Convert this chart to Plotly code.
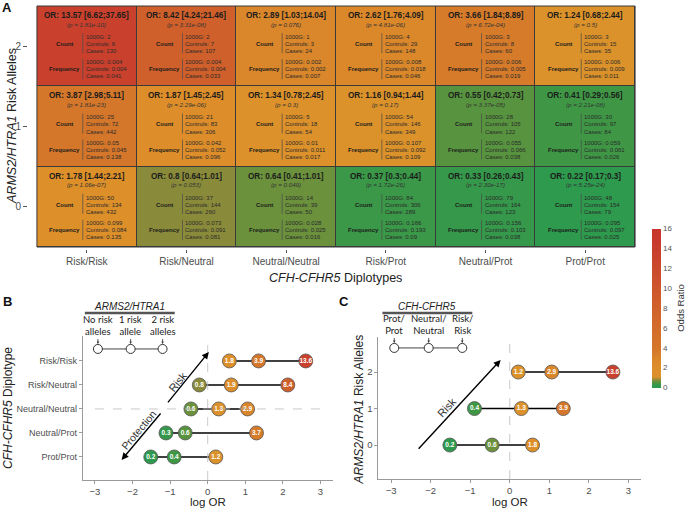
import numpy as np
import plotly.graph_objects as go

W, H = 685, 508
FONT = "Liberation Sans, Arial, sans-serif"

# ---------------- data ----------------
diplotypes = ["Risk/Risk", "Risk/Neutral", "Neutral/Neutral", "Risk/Prot", "Neutral/Prot", "Prot/Prot"]
risk_alleles = [0, 1, 2]

# odds ratios by ARMS2/HTRA1 risk allele count (columns follow diplotypes)
or_0 = [1.78, 0.8, 0.64, 0.37, 0.33, 0.22]
or_1 = [3.87, 1.87, 1.34, 1.16, 0.55, 0.41]
or_2 = [13.57, 8.42, 2.89, 2.62, 3.66, 1.24]

ci_lo_0 = [1.44, 0.64, 0.41, 0.3, 0.26, 0.17]
ci_hi_0 = [2.21, 1.01, 1.01, 0.44, 0.43, 0.3]
ci_lo_1 = [2.98, 1.45, 0.78, 0.94, 0.42, 0.29]
ci_hi_1 = [5.11, 2.45, 2.45, 1.44, 0.73, 0.56]
ci_lo_2 = [6.62, 4.24, 1.03, 1.76, 1.84, 0.68]
ci_hi_2 = [37.65, 21.46, 14.04, 4.09, 8.89, 2.44]

p_0 = ["1.06e-07", "0.053", "0.049", "1.72e-26", "2.30e-17", "5.25e-24"]
p_1 = ["1.81e-23", "2.29e-06", "0.3", "0.17", "3.37e-05", "2.21e-08"]
p_2 = ["1.81e-10", "3.31e-08", "0.076", "4.81e-06", "6.72e-04", "0.5"]

n1000g_0 = [50, 37, 14, 84, 79, 48]
n1000g_1 = [25, 21, 5, 54, 28, 30]
n1000g_2 = [2, 2, 1, 4, 3, 3]
nctrl_0 = [134, 144, 39, 306, 164, 154]
nctrl_1 = [72, 83, 18, 146, 105, 97]
nctrl_2 = [6, 7, 3, 29, 8, 15]
ncase_0 = [432, 260, 50, 289, 123, 79]
ncase_1 = [442, 306, 54, 349, 122, 84]
ncase_2 = [130, 107, 24, 148, 60, 35]

f1000g_0 = [0.099, 0.073, 0.028, 0.166, 0.156, 0.095]
f1000g_1 = [0.05, 0.042, 0.01, 0.107, 0.055, 0.059]
f1000g_2 = [0.004, 0.004, 0.002, 0.008, 0.006, 0.006]
fctrl_0 = [0.084, 0.091, 0.025, 0.193, 0.103, 0.097]
fctrl_1 = [0.045, 0.052, 0.011, 0.092, 0.066, 0.061]
fctrl_2 = [0.004, 0.004, 0.002, 0.018, 0.005, 0.009]
fcase_0 = [0.135, 0.081, 0.016, 0.09, 0.038, 0.025]
fcase_1 = [0.138, 0.096, 0.017, 0.109, 0.038, 0.026]
fcase_2 = [0.041, 0.033, 0.007, 0.046, 0.019, 0.011]

b_rows = ["Risk/Risk", "Risk/Neutral", "Neutral/Neutral", "Neutral/Prot", "Prot/Prot"]
c_cols = ["Prot/Prot", "Neutral/Neutral", "Risk/Risk"]
colorbar_ticks = [0, 2, 4, 6, 8, 10, 12, 14, 16]
logor_ticks = [-3, -2, -1, 0, 1, 2, 3]

# ---------------- colours ----------------
cs_vals = [0, 0.25, 0.4, 0.55, 0.65, 0.8, 1.0, 1.15, 1.9, 2.9, 3.9, 8.4, 13.6, 16]
cs_cols = ["#2a9a50", "#2f9a4d", "#3d9747", "#58943f", "#6d913d", "#8a8b3a", "#c08f30",
           "#db922b", "#dd8e2a", "#da862a", "#d5772a", "#d0602b", "#c9412d", "#c8352d"]
colorscale = [[v / 16, c] for v, c in zip(cs_vals, cs_cols)]

rows = [
    (or_0, ci_lo_0, ci_hi_0, p_0, n1000g_0, nctrl_0, ncase_0, f1000g_0, fctrl_0, fcase_0),
    (or_1, ci_lo_1, ci_hi_1, p_1, n1000g_1, nctrl_1, ncase_1, f1000g_1, fctrl_1, fcase_1),
    (or_2, ci_lo_2, ci_hi_2, p_2, n1000g_2, nctrl_2, ncase_2, f1000g_2, fctrl_2, fcase_2),
]
or_by_allele = [or_0, or_1, or_2]


def py(p):
    return 1 - p / H


fig = go.Figure()

# ---------------- Panel A heatmap ----------------
fig.add_trace(go.Heatmap(
    x=list(range(len(diplotypes))), y=risk_alleles, z=or_by_allele,
    colorscale=colorscale, zmin=0, zmax=16, xgap=1, ygap=1, hoverinfo="skip",
    colorbar=dict(thickness=9, thicknessmode="pixels", len=159, lenmode="pixels",
                  x=652 / W, xanchor="left", y=py(308), yanchor="middle",
                  outlinewidth=0, tickvals=colorbar_ticks, ticks="", xpad=0, ypad=0,
                  tickfont=dict(size=8, color="#555", family=FONT),
                  title=dict(text="Odds Ratio", side="right", font=dict(size=9.5, color="#333", family=FONT))),
    xaxis="x", yaxis="y"))

annotations = []
shapes = []
CW, CH = 99.8, 80.3
txt = "#1c1c1c"
for r, (orv, lo, hi, pv, n1, n2, n3, f1, f2, f3) in enumerate(rows):
    for c in range(len(diplotypes)):
        base = dict(x=c, y=r, xref="x", yref="y", showarrow=False, yanchor="middle")
        annotations.append(dict(base, text=f"<b>OR: {orv[c]} [{lo[c]};{hi[c]}]</b>", yshift=30.5, xanchor="center",
                                font=dict(size=8.2, color=txt, family=FONT)))
        annotations.append(dict(base, text=f"<i>(p = {pv[c]})</i>", yshift=22, xanchor="center",
                                font=dict(size=6.2, color="#333", family=FONT)))
        annotations.append(dict(base, text="<b>Count</b>", yshift=2, xshift=-22, xanchor="center",
                                font=dict(size=6, color=txt, family=FONT)))
        annotations.append(dict(base, text="<b>Frequency</b>", yshift=-23, xshift=-22, xanchor="center",
                                font=dict(size=6, color=txt, family=FONT)))
        for t, ys in zip([f"1000G: {n1[c]}", f"Controls: {n2[c]}", f"Cases: {n3[c]}"], [9, 2, -5]):
            annotations.append(dict(base, text=t, yshift=ys, xshift=-3, xanchor="left",
                                    font=dict(size=6, color="#2a2a2a", family=FONT)))
        for t, ys in zip([f"1000G: {f1[c]}", f"Controls: {f2[c]}", f"Cases: {f3[c]}"], [-16, -23, -30]):
            annotations.append(dict(base, text=t, yshift=ys, xshift=-3, xanchor="left",
                                    font=dict(size=6, color="#2a2a2a", family=FONT)))
        sx = c - 4 / CW
        for y0, y1 in [(13, -7), (-13, -33)]:
            shapes.append(dict(type="line", xref="x", yref="y", x0=sx, x1=sx, y0=r + y0 / CH, y1=r + y1 / CH,
                               line=dict(color="#4a4a4a", width=0.7)))

shapes.append(dict(type="rect", xref="x domain", yref="y domain", x0=0, x1=1, y0=0, y1=1,
                   fillcolor="#3a3a3a", line=dict(width=0), layer="below"))
shapes.append(dict(type="rect", xref="x domain", yref="y domain", x0=0, x1=1, y0=0, y1=1,
                   line=dict(color="#3a3a3a", width=1)))

# ---------------- Panel B ----------------
nb = len(b_rows)
for i, name in enumerate(b_rows):
    ci = diplotypes.index(name)
    vals = [or_by_allele[a][ci] for a in risk_alleles]
    fig.add_trace(go.Scatter(
        x=np.log(vals), y=[nb - 1 - i] * 3, mode="lines+markers+text",
        line=dict(color="black", width=1.5),
        marker=dict(size=14, color=vals, colorscale=colorscale, cmin=0, cmax=16, showscale=False,
                    line=dict(color="#555", width=0.8)),
        text=[f"<b>{v:.1f}</b>" for v in vals], textposition="middle center",
        textfont=dict(size=6.5, color="white", family=FONT),
        cliponaxis=False, hoverinfo="skip", xaxis="x2", yaxis="y2"))

# ---------------- Panel C ----------------
for a in risk_alleles:
    vals = [or_by_allele[a][diplotypes.index(n)] for n in c_cols]
    fig.add_trace(go.Scatter(
        x=np.log(vals), y=[a] * 3, mode="lines+markers+text",
        line=dict(color="black", width=1.5),
        marker=dict(size=14, color=vals, colorscale=colorscale, cmin=0, cmax=16, showscale=False,
                    line=dict(color="#555", width=0.8)),
        text=[f"<b>{v:.1f}</b>" for v in vals], textposition="middle center",
        textfont=dict(size=6.5, color="white", family=FONT),
        cliponaxis=False, hoverinfo="skip", xaxis="x3", yaxis="y3"))

# legend keys (white circles)
legend_x = [-2.92, -2.05, -1.2]
legend_b = ["No risk<br>alleles", "1 risk<br>allele", "2 risk<br>alleles"]
legend_c = ["Prot/<br>Prot", "Neutral/<br>Neutral", "Risk/<br>Risk"]
for xa, ya, yv, labels in [("x2", "y2", 4.5, legend_b), ("x3", "y3", 2.66, legend_c)]:
    fig.add_trace(go.Scatter(x=legend_x, y=[yv] * 3, mode="lines+markers",
                             line=dict(color="#444", width=1),
                             marker=dict(size=9, color="white", line=dict(color="#333", width=1)),
                             cliponaxis=False, hoverinfo="skip", xaxis=xa, yaxis=ya))
    for lx, lab in zip(legend_x, labels):
        annotations.append(dict(x=lx, y=yv, xref=xa, yref=ya, text=lab, showarrow=True,
                                ax=0, ay=-23, arrowhead=2, arrowsize=0.6, arrowwidth=0.8,
                                arrowcolor="#333", standoff=5,
                                font=dict(size=9.5, color="#222", family="Lato, Liberation Sans, sans-serif")))

# headers above legend keys
for cx, label in [(130, "<i>ARMS2/HTRA1</i>"), (428, "<i>CFH-CFHR5</i>")]:
    annotations.append(dict(x=cx / W, y=py(306), xref="paper", yref="paper", text=label, showarrow=False,
                            xanchor="center", yanchor="middle",
                            font=dict(size=10, color="#222", family=FONT)))
    shapes.append(dict(type="line", xref="paper", yref="paper", x0=(cx - 45) / W, x1=(cx + 45) / W,
                       y0=py(313), y1=py(313), line=dict(color="#555", width=2.5)))

# dashed reference lines
for xa, ya in [("x2", "y2"), ("x3", "y3")]:
    shapes.append(dict(type="line", xref=xa, yref=ya + " domain", x0=0, x1=0, y0=0, y1=1,
                       line=dict(color="#bbbbbb", width=0.8, dash="dash")))
shapes.append(dict(type="line", xref="x2", yref="y2", x0=-3, x1=3, y0=2, y1=2,
                   line=dict(color="#bbbbbb", width=0.8, dash="dash")))

# direction arrows
arrow_style = dict(showarrow=True, text="", arrowhead=2, arrowsize=1, arrowwidth=1.4, arrowcolor="black")
annotations.append(dict(arrow_style, x=0.03, y=4.375, ax=-1.09, ay=2.21, xref="x2", yref="y2", axref="x2", ayref="y2"))
annotations.append(dict(arrow_style, x=-2.29, y=-0.125, ax=-1.22, ay=1.875, xref="x2", yref="y2", axref="x2", ayref="y2"))
annotations.append(dict(arrow_style, x=-0.23, y=2.33, ax=-2.34, ay=-0.14, xref="x3", yref="y3", axref="x3", ayref="y3"))
annotations.append(dict(x=-0.80, y=3.12, xref="x2", yref="y2", text="Risk", textangle=-51, showarrow=False,
                        xanchor="center", yanchor="middle", font=dict(size=11, color="#333", family=FONT)))
annotations.append(dict(x=-1.84, y=1.125, xref="x2", yref="y2", text="Protection", textangle=-50, showarrow=False,
                        xanchor="center", yanchor="middle", font=dict(size=10.5, color="#333", family=FONT)))
annotations.append(dict(x=-1.58, y=1.03, xref="x3", yref="y3", text="Risk", textangle=-47, showarrow=False,
                        xanchor="center", yanchor="middle", font=dict(size=11, color="#333", family=FONT)))

# axis titles and panel letters
title_font = dict(size=12.5, color="#222", family=FONT)
ctr = dict(xanchor="center", yanchor="middle", showarrow=False)
annotations += [
    dict(ctr, x=336 / W, y=py(278), xref="paper", yref="paper", text="<i>CFH-CFHR5</i> Diplotypes", font=title_font),
    dict(ctr, x=12 / W, y=py(126), xref="paper", yref="paper", text="<i>ARMS2/HTRA1</i> Risk Alleles", textangle=-90, font=title_font),
    dict(ctr, x=0, y=py(502), xref="x2", yref="paper", text="log OR", font=dict(size=11.5, color="#222", family=FONT)),
    dict(ctr, x=0, y=py(502), xref="x3", yref="paper", text="log OR", font=dict(size=11.5, color="#222", family=FONT)),
    dict(ctr, x=8 / W, y=py(408), xref="paper", yref="paper", text="<i>CFH-CFHR5</i> Diplotype", textangle=-90, font=dict(size=12, color="#222", family=FONT)),
    dict(ctr, x=360 / W, y=py(409), xref="paper", yref="paper", text="<i>ARMS2/HTRA1</i> Risk Alleles", textangle=-90, font=dict(size=12, color="#222", family=FONT)),
]
for lx, ly, letter in [(7, 8, "A"), (8, 301, "B"), (345, 301, "C")]:
    annotations.append(dict(ctr, x=lx / W, y=py(ly), xref="paper", yref="paper", text=f"<b>{letter}</b>",
                            font=dict(size=13, color="#111", family=FONT)))

tickf = dict(size=9.5, color="#4d4d4d", family=FONT)
ax_common = dict(showgrid=False, zeroline=False, showline=True, linecolor="#9a9a9a", linewidth=1,
                 ticks="outside", ticklen=3, tickcolor="#9a9a9a", tickfont=tickf, fixedrange=True)

fig.update_layout(
    width=W, height=H, autosize=False, margin=dict(l=0, r=0, t=0, b=0),
    paper_bgcolor="white", plot_bgcolor="white", showlegend=False,
    font=dict(family=FONT),
    xaxis=dict(domain=[37 / W, 636 / W], range=[-0.5, 5.5], anchor="free", position=py(249),
               tickvals=list(range(len(diplotypes))), ticktext=diplotypes, ticks="outside", ticklen=3,
               tickcolor="#555", showline=False, showgrid=False, zeroline=False,
               tickfont=dict(size=10, color="#4d4d4d", family=FONT), fixedrange=True),
    yaxis=dict(domain=[py(247), py(6)], range=[-0.5, 2.5], anchor="free", position=27 / W,
               tickvals=risk_alleles, ticks="outside", ticklen=4, tickcolor="#555",
               showline=False, showgrid=False, zeroline=False,
               tickfont=dict(size=10, color="#4d4d4d", family=FONT), fixedrange=True),
    xaxis2=dict(ax_common, domain=[83 / W, 333 / W], range=[-3.32, 3.32], anchor="y2", tickvals=logor_ticks),
    yaxis2=dict(ax_common, domain=[py(480), py(336)], range=[-0.96, 5.04], anchor="x2",
                tickvals=list(range(nb)), ticktext=b_rows[::-1],
                tickfont=dict(size=9, color="#4d4d4d", family=FONT)),
    xaxis3=dict(ax_common, domain=[379 / W, 642 / W], range=[-3.32, 3.32], anchor="y3", tickvals=logor_ticks),
    yaxis3=dict(ax_common, domain=[py(479), py(337)], range=[-0.93, 2.96], anchor="x3", tickvals=risk_alleles),
    annotations=annotations, shapes=shapes,
)

fig.write_html("out.html", config={"displayModeBar": False},
               post_script="document.body.style.margin='0px';document.body.style.overflow='hidden';")
